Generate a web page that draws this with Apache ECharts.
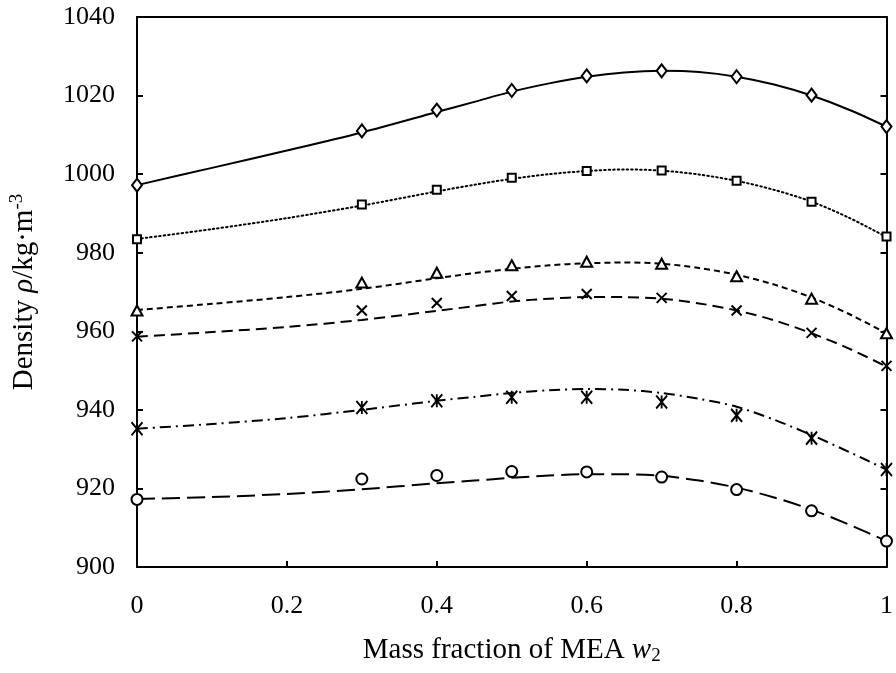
<!DOCTYPE html>
<html>
<head>
<meta charset="utf-8">
<script src="https://cdn.jsdelivr.net/npm/echarts@6/dist/echarts.min.js"></script>
<style>html,body{margin:0;padding:0;background:#fff}#c{width:896px;height:673px}</style>
</head>
<body>
<div id="c"></div>
<script>
// Measured points
const xPts = [0, 0.3, 0.4, 0.5, 0.6, 0.7, 0.8, 0.9, 1.0];
const sDiamond  = [997.2, 1011.0, 1016.3, 1021.3, 1025.0, 1026.3, 1024.8, 1020.1, 1012.1];
const sSquare   = [983.4, 992.3, 996.0, 999.1, 1000.8, 1000.9, 998.3, 993.0, 984.1];
const sTriangle = [965.3, 972.4, 974.9, 976.8, 977.7, 977.2, 974.0, 968.3, 959.5];
const sCross    = [958.7, 965.3, 967.2, 969.0, 969.5, 968.5, 965.3, 959.6, 951.2];
const sStar     = [935.2, 940.6, 942.3, 943.2, 943.2, 942.0, 938.6, 932.8, 924.8];
const sCircle   = [917.2, 922.4, 923.3, 924.3, 924.2, 922.9, 919.7, 914.3, 906.6];

// Fitted curves
const xCurve    = [0, 0.1, 0.2, 0.3, 0.4, 0.45, 0.5, 0.55, 0.6, 0.65, 0.7, 0.75, 0.8, 0.85, 0.9, 0.95, 1.0];
const cDiamond  = [997.2, 1001.6, 1006.0, 1010.6, 1015.8, 1018.4, 1021.0, 1023.1, 1024.8, 1025.9, 1026.3, 1026.0, 1024.8, 1022.8, 1020.0, 1016.4, 1012.1];
const cSquare   = [983.5, 986.0, 988.8, 992.0, 995.6, 997.3, 998.8, 1000.0, 1000.8, 1001.2, 1000.9, 999.9, 998.3, 996.0, 993.0, 988.9, 984.0];
const cTriangle = [965.4, 967.0, 968.7, 970.8, 973.5, 974.8, 975.9, 976.8, 977.3, 977.5, 977.2, 976.1, 974.4, 971.9, 968.6, 964.4, 959.5];
const cCross    = [958.6, 959.8, 961.1, 962.9, 965.2, 966.4, 967.6, 968.3, 968.7, 968.7, 968.3, 967.1, 965.3, 962.8, 959.5, 955.6, 951.0];
const cStar     = [935.2, 936.4, 937.9, 940.0, 942.3, 943.3, 944.3, 945.0, 945.3, 945.1, 944.3, 942.8, 940.8, 937.5, 933.6, 929.3, 924.8];
const cCircle   = [917.3, 917.8, 918.6, 919.8, 921.3, 922.0, 922.7, 923.3, 923.6, 923.6, 923.2, 922.0, 920.2, 917.7, 914.6, 910.8, 906.6];

const xTickLabels = ['0', '0.2', '0.4', '0.6', '0.8', '1'];
const yTickLabels = ['900', '920', '940', '960', '980', '1000', '1020', '1040'];

const FONT = 'Liberation Serif';
const pair = (xs, ys) => xs.map((x, i) => [x, ys[i]]);

const markerSeries = [
  {d: sDiamond, symbol: 'path://M5,0L10,6.5L5,13L0,6.5Z', size: [10, 13]},
  {d: sSquare, symbol: 'rect', size: 8},
  {d: sTriangle, symbol: 'triangle', size: [11, 10]},
  {d: sCross, symbol: 'path://M0,0L10,10M10,0L0,10', size: 10, open: true},
  {d: sStar, symbol: 'path://M0,0L10,12M10,0L0,12M5,0L5,12', size: [11, 13], open: true},
  {d: sCircle, symbol: 'circle', size: 11}
];
const curveSeries = [
  {d: cDiamond, type: 'solid', w: 2},
  {d: cSquare, type: [1.5, 3], w: 2, cap: 'round'},
  {d: cTriangle, type: [6, 4], w: 2},
  {d: cCross, type: [11, 6], w: 2},
  {d: cStar, type: [11, 5, 2, 5], w: 2},
  {d: cCircle, type: [18, 7], w: 2}
];

const series = [];
curveSeries.forEach(c => series.push({
  type: 'line', data: pair(xCurve, c.d), smooth: 0.3, showSymbol: false, silent: true,
  lineStyle: {color: '#000', width: c.w, type: c.type, cap: c.cap || 'butt'}, z: 2
}));
markerSeries.forEach(m => series.push({
  type: 'scatter', data: pair(xPts, m.d), symbol: m.symbol, symbolSize: m.size,
  itemStyle: {color: m.open ? 'transparent' : '#fff', borderColor: '#000', borderWidth: 2, opacity: 1}, z: 3
}));

const chart = echarts.init(document.getElementById('c'));
chart.setOption({
  animation: false,
  backgroundColor: '#fff',
  grid: {left: 137, right: 5, top: 17, bottom: 106},
  xAxis: [{
    type: 'value', min: 0, max: 1, interval: 0.2, position: 'bottom',
    axisLine: {lineStyle: {color: '#000', width: 2}},
    axisTick: {inside: true, length: 6, lineStyle: {color: '#000', width: 2}},
    splitLine: {show: false},
    axisLabel: {color: '#000', fontFamily: FONT, fontSize: 26, margin: 26,
      formatter: v => xTickLabels[Math.round(v / 0.2)]},
    name: '{n|Mass fraction of MEA }{i|w}{s|2}', nameLocation: 'middle', nameGap: 68,
    nameTextStyle: {rich: {
      n: {fontFamily: FONT, fontSize: 29, color: '#000'},
      i: {fontFamily: FONT, fontSize: 29, fontStyle: 'italic', color: '#000'},
      s: {fontFamily: FONT, fontSize: 19, color: '#000', padding: [12, 0, 0, 0]}
    }}
  }, {
    type: 'value', min: 0, max: 1, interval: 0.2, position: 'top',
    axisLine: {show: true, onZero: false, lineStyle: {color: '#000', width: 2}},
    axisTick: {show: false}, axisLabel: {show: false}, splitLine: {show: false}
  }],
  yAxis: [{
    type: 'value', min: 900, max: 1040, interval: 20, position: 'left',
    axisLine: {show: true, lineStyle: {color: '#000', width: 2}},
    axisTick: {show: true, inside: true, length: 6, lineStyle: {color: '#000', width: 2}},
    splitLine: {show: false},
    axisLabel: {color: '#000', fontFamily: FONT, fontSize: 26, margin: 22,
      formatter: v => yTickLabels[Math.round((v - 900) / 20)]},
    name: '{n|Density }{i|ρ}{n|/kg·m}{s|-3}', nameLocation: 'middle', nameGap: 96, nameRotate: 90,
    nameTextStyle: {rich: {
      n: {fontFamily: FONT, fontSize: 29, color: '#000'},
      i: {fontFamily: FONT, fontSize: 29, fontStyle: 'italic', color: '#000'},
      s: {fontFamily: FONT, fontSize: 19, color: '#000', padding: [0, 0, 14, 0]}
    }}
  }, {
    type: 'value', min: 900, max: 1040, interval: 20, position: 'right',
    axisLine: {show: true, onZero: false, lineStyle: {color: '#000', width: 2}},
    axisTick: {show: true, inside: true, length: 6, lineStyle: {color: '#000', width: 2}},
    axisLabel: {show: false}, splitLine: {show: false}
  }],
  series: series
});
</script>
</body>
</html>
